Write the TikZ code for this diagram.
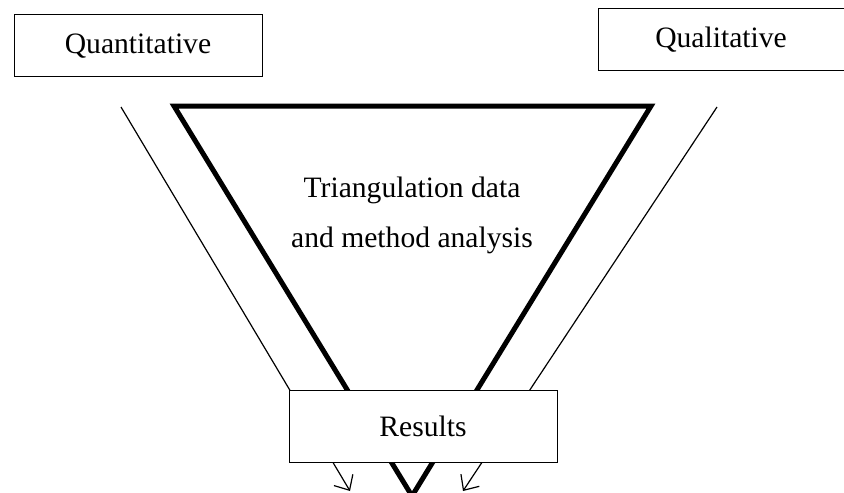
\documentclass[tikz,border=0pt]{standalone}
\usepackage{fontspec}
\setmainfont{Liberation Serif}
\usetikzlibrary{arrows.meta}
\begin{document}
\begin{tikzpicture}[x=0.5pt,y=-0.5pt,
  label box/.style={draw,line width=0.5pt,fill=white,inner sep=0pt,font=\fontsize{14.8pt}{17pt}\selectfont},
  flow line/.style={line width=0.6pt,-{Straight Barb[length=6pt,width=11pt,line width=0.6pt]}},
  funnel/.style={line width=2.5pt,miter limit=10}]
  \useasboundingbox (0,0) rectangle (844,492);

  % side flows running down to the results
  \coordinate (qnStart) at (121,107);
  \coordinate (qnEnd) at (350,491);
  \coordinate (qlStart) at (717,107);
  \coordinate (qlEnd) at (463,491);
  \draw[flow line] (qnStart) -- (qnEnd);
  \draw[flow line] (qlStart) -- (qlEnd);

  % funnel of triangulation
  \coordinate (tl) at (174,106);
  \coordinate (tr) at (651,106);
  \coordinate (apex) at (412,496);
  \draw[funnel] (tl) -- (tr) -- (apex) -- cycle;
  \node[font=\fontsize{14.8pt}{17pt}\selectfont] (tri1) at (412,190) {Triangulation data};
  \node[font=\fontsize{14.8pt}{17pt}\selectfont] (tri2) at (412,240) {and method analysis};

  % boxes
  \node[label box,minimum width=124pt,minimum height=31pt] (quant) at (138,46) {Quantitative};
  \node[label box,minimum width=123pt,minimum height=31pt] (qual) at (721,39.5) {Qualitative};
  \node[label box,minimum width=134pt,minimum height=36pt] (res) at (423,426) {Results};
\end{tikzpicture}
\end{document}
